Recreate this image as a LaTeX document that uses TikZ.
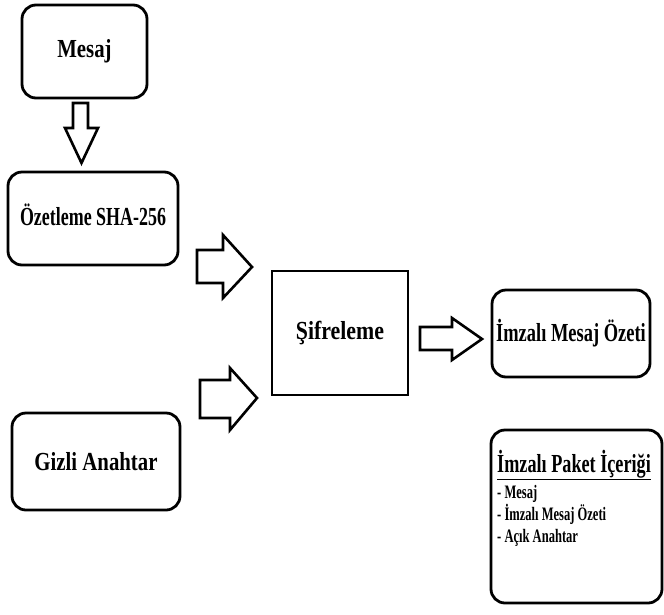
\documentclass[tikz,border=0pt]{standalone}
\usepackage{fontspec}
\usepackage{graphicx}
\setmainfont{Liberation Serif}
% condensed bold label: #1 horizontal scale, #2 size, #3 text
\newcommand\boldlbl[3]{\scalebox{#1}[1]{\fontsize{#2}{#2}\selectfont\bfseries #3}}
\tikzset{
  roundbox/.style={draw=black, line width=2.8pt, rounded corners=14pt, fill=white, inner sep=0pt},
  plainbox/.style={draw=black, line width=2.8pt, fill=white, inner sep=0pt},
  blockarrow/.style={draw=black, line width=2.6pt, line join=miter, fill=white},
  itemline/.style={anchor=base west, inner sep=0pt},
}
\begin{document}
\begin{tikzpicture}[x=1pt, y=-1pt]
  \useasboundingbox[fill=white] (0,0) rectangle (664,614);

  % boxes
  \node[roundbox, minimum width=125pt, minimum height=93pt] (mesaj) at (84.5,51.5)
    {\raisebox{4pt}{\boldlbl{0.8}{26pt}{Mesaj}}};
  \node[roundbox, minimum width=170pt, minimum height=93pt] (ozet) at (93,218.5)
    {\raisebox{8pt}{\boldlbl{0.69}{26pt}{Özetleme SHA-256}}};
  \node[plainbox, minimum width=136pt, minimum height=124pt] (sifre) at (340,333)
    {\boldlbl{0.84}{26pt}{Şifreleme}};
  \node[roundbox, minimum width=168pt, minimum height=97pt] (gizli) at (96,461.5)
    {\boldlbl{0.8}{26pt}{Gizli Anahtar}};
  \node[roundbox, minimum width=158pt, minimum height=87pt] (imzali) at (571,333.5)
    {\raisebox{3pt}{\boldlbl{0.71}{26pt}{İmzalı Mesaj Özeti}}};
  \node[roundbox, minimum width=171pt, minimum height=173pt] (paket) at (576.5,516.5) {};

  % contents of the signed package
  \node[itemline] (paketTitle) at (497,472)
    {\boldlbl{0.7}{26pt}{\underline{İmzalı Paket İçeriği}}};
  \node[itemline] (item1) at (497,498) {\boldlbl{0.66}{19pt}{- Mesaj}};
  \node[itemline] (item2) at (497,520) {\boldlbl{0.66}{19pt}{- İmzalı Mesaj Özeti}};
  \node[itemline] (item3) at (497,542) {\boldlbl{0.66}{19pt}{- Açık Anahtar}};

  % block arrows between the stages
  \draw[blockarrow] (73,103) -- (88,103) -- (88,128) -- (98,128) -- (81.5,163)
    -- (65,128) -- (73,128) -- cycle;
  \draw[blockarrow] (197,250) -- (223,250) -- (223,235) -- (252,267)
    -- (223,298) -- (223,283) -- (197,283) -- cycle;
  \draw[blockarrow] (200,380) -- (230,380) -- (230,368) -- (257,398)
    -- (230,430) -- (230,418) -- (200,418) -- cycle;
  \draw[blockarrow] (420,327) -- (452,327) -- (452,318) -- (482,339)
    -- (452,360) -- (452,350) -- (420,350) -- cycle;
\end{tikzpicture}
\end{document}
